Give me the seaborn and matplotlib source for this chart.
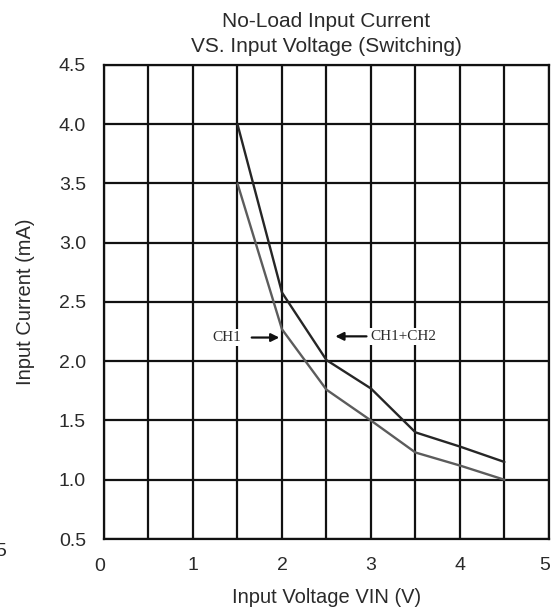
import matplotlib
matplotlib.use("Agg")
import matplotlib.pyplot as plt
import matplotlib.transforms as mtransforms
import seaborn as sns
import pandas as pd

# Data
vin = [1.5, 2.0, 2.5, 3.0, 3.5, 4.0, 4.5]
ch1_ch2 = [4.0, 2.58, 2.01, 1.77, 1.40, 1.28, 1.15]
ch1 = [3.5, 2.27, 1.76, 1.50, 1.23, 1.12, 1.0]
series_names = ["CH1+CH2", "CH1"]
x_ticks = [1, 2, 3, 4, 5]
y_ticks = [0.5, 1.0, 1.5, 2.0, 2.5, 3.0, 3.5, 4.0, 4.5]

df = pd.DataFrame({
    "vin": vin * 2,
    "current": ch1_ch2 + ch1,
    "series": [series_names[0]] * len(vin) + [series_names[1]] * len(vin),
})

sns.set_theme(style="white")
plt.rcParams['font.family'] = ['Liberation Sans', 'DejaVu Sans']

TXT = "#2a2a2a"
fig = plt.figure(figsize=(5.52, 6.07), dpi=100)
ax = fig.add_axes([0.1884, 0.112, 0.806, 0.781])

# grid
for gx in [i * 0.5 for i in range(11)]:
    ax.axvline(gx, color="#111111", lw=1.6, zorder=1)
for gy in y_ticks:
    ax.axhline(gy, color="#111111", lw=1.6, zorder=1)

sns.lineplot(data=df, x="vin", y="current", hue="series",
             palette={"CH1+CH2": "#262626", "CH1": "#5c5c5c"},
             linewidth=1.7, legend=False, ax=ax, zorder=3)

ax.set_xlim(0, 5)
ax.set_ylim(0.5, 4.5)
ax.set_xticks(x_ticks)
ax.set_xticklabels([str(t) for t in x_ticks], fontsize=14, color=TXT)
ax.set_yticks(y_ticks)
ax.set_yticklabels([f"{t:.1f}" for t in y_ticks], fontsize=14, color=TXT)
ax.tick_params(length=0, pad=13, axis="x")
ax.tick_params(length=0, pad=13, axis="y")
for s in ax.spines.values():
    s.set_color("#111111")
    s.set_linewidth(1.6)

# nudge the last x label slightly left so it stays inside the image
last = ax.get_xticklabels()[-1]
last.set_transform(last.get_transform() +
                   mtransforms.ScaledTranslation(-4 / 100, 0, fig.dpi_scale_trans))

# offset "0" label
ax.text(-0.045, -0.059, "0", transform=ax.get_xaxis_transform(),
        fontsize=14, color=TXT, ha="center", va="center")

ax.set_xlabel("Input Voltage VIN (V)", fontsize=14.5, color=TXT, labelpad=10)
ax.set_ylabel("Input Current (mA)", fontsize=14.5, color=TXT, labelpad=17)
ax.set_title("No-Load Input Current\nVS. Input Voltage (Switching)",
             fontsize=15, color=TXT, linespacing=1.45, pad=9)

# annotations
serif = ['Liberation Serif', 'DejaVu Serif']
ax.text(1.38, 2.2, "CH1", fontsize=11, family=serif, color=TXT,
        ha="center", va="center",
        bbox=dict(facecolor="white", edgecolor="none", pad=1.5), zorder=4)
ax.annotate("", xy=(1.97, 2.2), xytext=(1.66, 2.2),
            arrowprops=dict(arrowstyle="-|>", color="#111111", lw=1.6,
                            mutation_scale=12, shrinkA=0, shrinkB=0), zorder=4)
ax.text(3.37, 2.21, "CH1+CH2", fontsize=11, family=serif, color=TXT,
        ha="center", va="center",
        bbox=dict(facecolor="white", edgecolor="none", pad=1.5), zorder=4)
ax.annotate("", xy=(2.60, 2.21), xytext=(2.95, 2.21),
            arrowprops=dict(arrowstyle="-|>", color="#111111", lw=1.6,
                            mutation_scale=12, shrinkA=0, shrinkB=0), zorder=4)

# stray label partly clipped at the left edge of the reference image
fig.text(-0.008, (607 - 552) / 607, "5", fontsize=14, color=TXT,
         ha="left", va="center", transform=fig.transFigure)

fig.savefig("out.png", dpi=100)
